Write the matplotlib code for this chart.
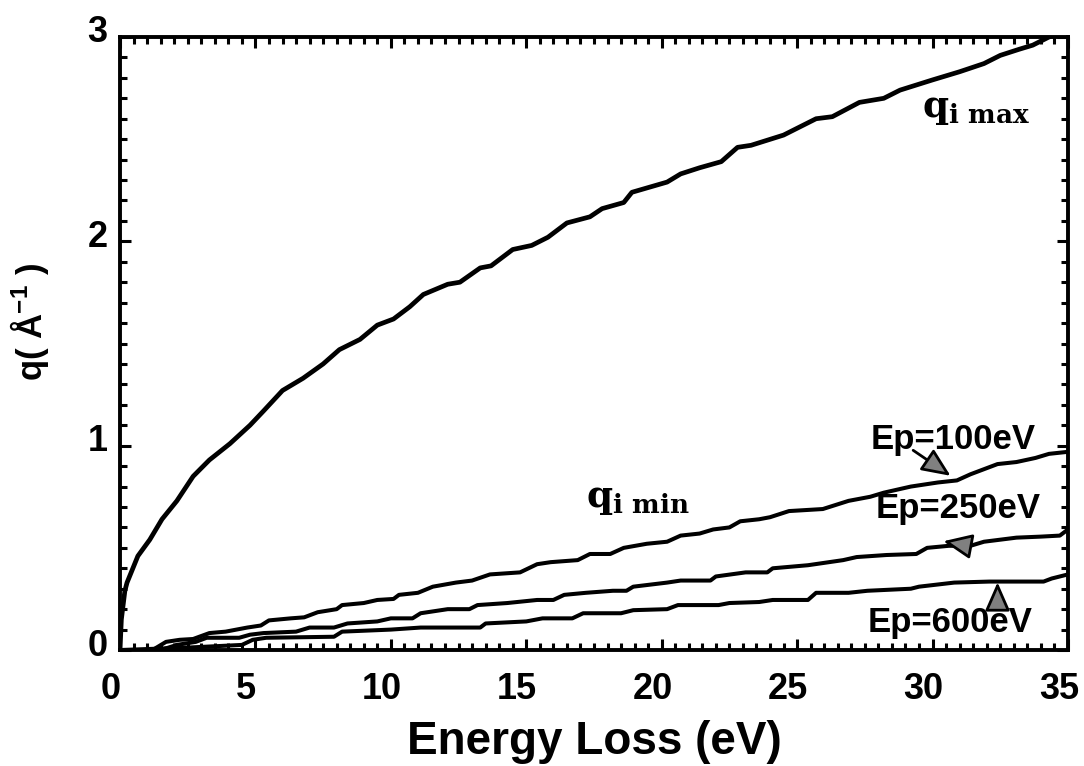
import matplotlib
matplotlib.use("Agg")
import matplotlib.pyplot as plt
import matplotlib.transforms as mtransforms
from matplotlib.ticker import MultipleLocator

plt.rcParams['font.family'] = ['Liberation Sans', 'DejaVu Sans']
plt.rcParams['font.weight'] = 'bold'
plt.rcParams['mathtext.fontset'] = 'custom'
plt.rcParams['mathtext.rm'] = 'DejaVu Serif:bold'
plt.rcParams['mathtext.bf'] = 'Liberation Sans:bold'

# upper limit of momentum transfer
qmax_e = [0, 0.05, 0.18, 0.26, 0.66, 1.1, 1.55, 2.1, 2.7, 3.3, 4.06, 4.8, 5.3, 6.0, 6.76, 7.5, 8.1,
          8.86, 9.5, 10.1, 10.7, 11.2, 12.1, 12.55, 13.3, 13.7, 14.5, 15.2, 15.8, 16.5, 17.35, 17.8,
          18.6, 18.9, 20.2, 20.7, 21.4, 22.2, 22.8, 23.3, 24.5, 25.1, 25.7, 26.3, 27.3, 28.2, 28.8,
          30.0, 31.0, 31.9, 32.5, 33.2, 33.7, 34.3, 35.0]
qmax_q = [0, 0.15, 0.29, 0.33, 0.46, 0.54, 0.64, 0.73, 0.85, 0.93, 1.01, 1.10, 1.17, 1.27, 1.33, 1.40,
          1.47, 1.52, 1.59, 1.62, 1.68, 1.74, 1.79, 1.80, 1.87, 1.88, 1.96, 1.98, 2.02, 2.09, 2.12,
          2.16, 2.19, 2.24, 2.29, 2.33, 2.36, 2.39, 2.46, 2.47, 2.52, 2.56, 2.60, 2.61, 2.68, 2.70,
          2.74, 2.79, 2.83, 2.87, 2.91, 2.94, 2.96, 3.0, 3.03]

# lower limits for the three primary energies
ep100_e = [0, 1.2, 1.7, 2.2, 2.7, 3.3, 3.9, 4.7, 5.2, 5.5, 6.3, 6.8, 7.3, 8.0, 8.2, 9.0, 9.5, 10.1,
           10.3, 11.0, 11.55, 12.4, 13.0, 13.66, 14.77, 15.4, 15.9, 16.9, 17.35, 18.1, 18.6, 19.45,
           20.2, 20.7, 21.4, 21.9, 22.5, 22.9, 23.6, 24.0, 24.7, 25.95, 26.9, 27.7, 28.2, 29.2, 30.2,
           30.9, 31.4, 32.4, 33.1, 33.8, 34.3, 35.0]
ep100_q = [0, 0, 0.04, 0.05, 0.054, 0.083, 0.09, 0.11, 0.12, 0.145, 0.155, 0.16, 0.185, 0.20, 0.22,
           0.23, 0.245, 0.25, 0.27, 0.28, 0.31, 0.33, 0.34, 0.37, 0.38, 0.42, 0.43, 0.44, 0.47, 0.47,
           0.50, 0.52, 0.53, 0.56, 0.57, 0.59, 0.60, 0.63, 0.64, 0.65, 0.68, 0.69, 0.73, 0.75, 0.77,
           0.80, 0.82, 0.83, 0.86, 0.91, 0.92, 0.94, 0.96, 0.97]

ep250_e = [0, 1.5, 2.1, 2.8, 3.2, 4.4, 4.8, 5.3, 6.5, 7.0, 7.9, 8.4, 9.5, 10.0, 10.8, 11.1, 12.1,
           12.9, 13.2, 14.3, 15.4, 16.0, 16.4, 17.2, 18.2, 18.7, 18.95, 20.2, 20.7, 21.8, 22.0, 23.1,
           23.9, 24.1, 25.4, 26.7, 27.2, 28.3, 29.4, 29.8, 30.6, 31.4, 31.9, 33.1, 34.0, 34.7, 35.0]
ep250_q = [0, 0, 0.025, 0.04, 0.06, 0.06, 0.075, 0.083, 0.09, 0.11, 0.11, 0.13, 0.14, 0.155, 0.155,
           0.18, 0.20, 0.20, 0.22, 0.23, 0.245, 0.245, 0.27, 0.28, 0.29, 0.29, 0.31, 0.33, 0.34, 0.34,
           0.36, 0.38, 0.38, 0.40, 0.415, 0.44, 0.455, 0.465, 0.47, 0.50, 0.51, 0.51, 0.53, 0.55,
           0.555, 0.56, 0.59]

ep600_e = [0, 2.5, 4.5, 4.9, 5.4, 7.9, 8.2, 10.0, 11.1, 13.3, 13.5, 15.0, 15.6, 16.7, 17.1, 18.5,
           18.95, 20.2, 20.6, 22.1, 22.5, 23.6, 24.1, 25.4, 25.7, 26.9, 27.6, 29.2, 29.5, 30.8, 32.1,
           34.1, 34.4, 35.0]
ep600_q = [0, 0.012, 0.025, 0.05, 0.06, 0.065, 0.09, 0.10, 0.11, 0.11, 0.13, 0.14, 0.155, 0.155,
           0.18, 0.18, 0.195, 0.20, 0.22, 0.22, 0.23, 0.235, 0.245, 0.245, 0.28, 0.28, 0.29, 0.30,
           0.31, 0.33, 0.335, 0.335, 0.35, 0.37]

x_ticks = [0, 5, 10, 15, 20, 25, 30, 35]
y_ticks = [0, 1, 2, 3]

fig = plt.figure(figsize=(10.84, 7.66), dpi=100)
ax = fig.add_axes([0.1107, 0.1514, 0.8745, 0.8003])

ax.plot(qmax_e, qmax_q, color='k', lw=3.4, solid_joinstyle='round', solid_capstyle='round')
for e, q in [(ep100_e, ep100_q), (ep250_e, ep250_q), (ep600_e, ep600_q)]:
    ax.plot(e, q, color='k', lw=2.9, solid_joinstyle='round', solid_capstyle='round')

ax.set_xlim(0, 35)
ax.set_ylim(0, 3)
ax.set_xticks(x_ticks)
ax.set_yticks(y_ticks)
ax.xaxis.set_minor_locator(MultipleLocator(0.5))
ax.yaxis.set_minor_locator(MultipleLocator(0.1))
ax.tick_params(which='both', direction='in', top=True, right=True, width=2.2)
ax.tick_params(which='major', length=8)
ax.tick_params(which='minor', length=5)
ax.tick_params(axis='x', which='major', labelsize=26, pad=16)
ax.tick_params(axis='y', which='major', labelsize=26, pad=9)
for s in ax.spines.values():
    s.set_linewidth(2.8)

# nudge tick labels like the original plotter did
for lab in ax.get_xticklabels():
    lab.set_transform(lab.get_transform() + mtransforms.ScaledTranslation(-9 / 100, 0, fig.dpi_scale_trans))
for lab in ax.get_yticklabels():
    lab.set_transform(lab.get_transform() + mtransforms.ScaledTranslation(0, 8 / 100, fig.dpi_scale_trans))

ax.set_xlabel('Energy Loss (eV)', fontsize=33, fontweight='bold', labelpad=9)
ax.set_ylabel(r'q( Å$^{\mathbf{-1}}$ )', fontsize=25, fontweight='bold')
ax.yaxis.set_label_coords(-0.073, 0.535)

ax.text(29.6, 2.61, r'q$_{\mathrm{i\ max}}$', fontsize=27, family='DejaVu Serif', fontweight='bold')
ax.text(17.2, 0.70, r'q$_{\mathrm{i\ min}}$', fontsize=27, family='DejaVu Serif', fontweight='bold')

ax.text(27.7, 1.03, 'Ep=100eV', fontsize=25, fontweight='bold', va='center')
ax.text(27.9, 0.695, 'Ep=250eV', fontsize=25, fontweight='bold', va='center')
ax.text(27.6, 0.137, 'Ep=600eV', fontsize=25, fontweight='bold', va='center')

arrow_style = dict(arrowstyle='-|>,head_length=0.8,head_width=0.35', mutation_scale=22,
                   fc='0.5', ec='k', lw=2)
ax.annotate('', xy=(30.75, 0.845), xytext=(29.2, 0.985), arrowprops=arrow_style)
ax.annotate('', xy=(30.3, 0.535), xytext=(31.5, 0.505), arrowprops=arrow_style)
ax.annotate('', xy=(32.4, 0.345), xytext=(32.4, 0.215), arrowprops=arrow_style)

fig.savefig('out.png', dpi=100)
